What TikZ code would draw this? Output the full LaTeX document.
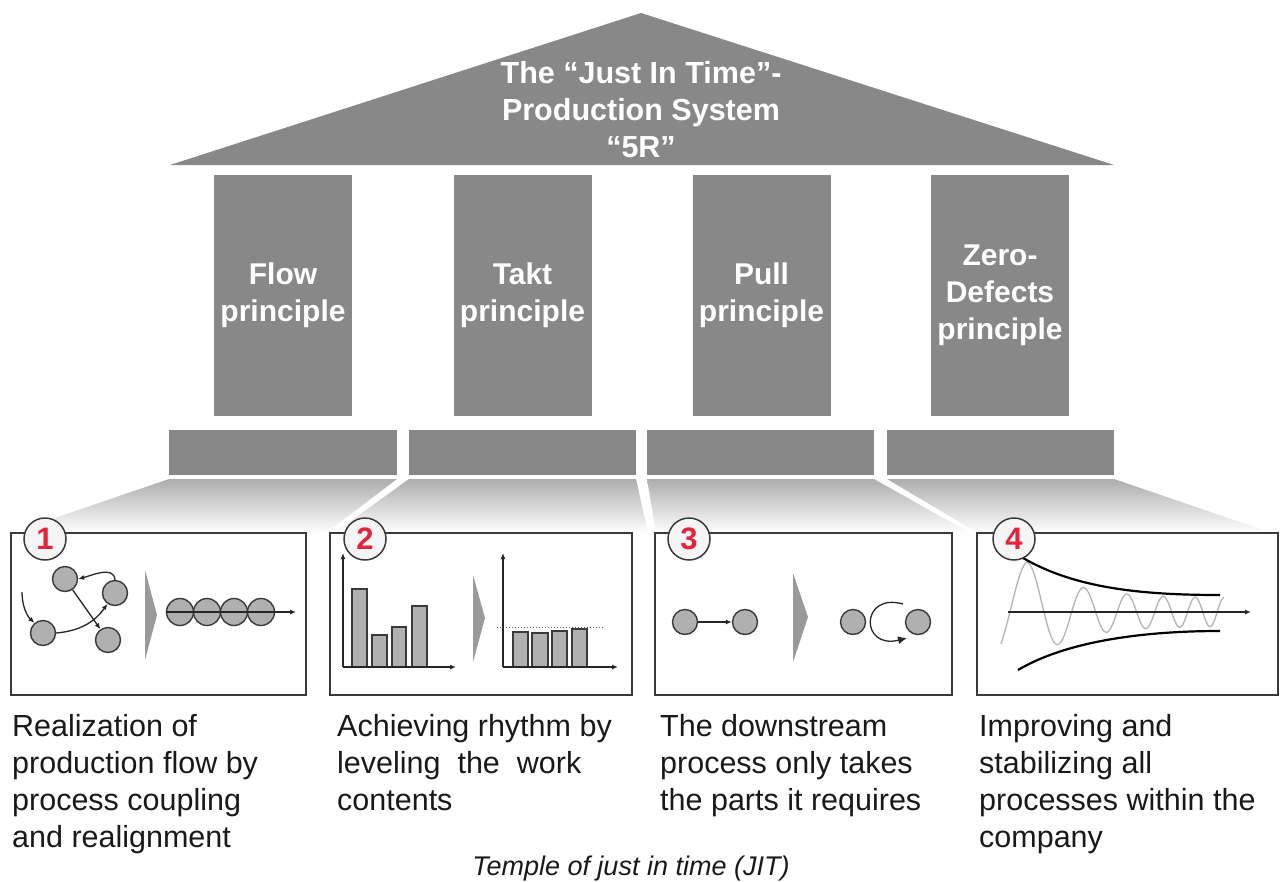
\documentclass[tikz,border=0pt]{standalone}
\usepackage{fontspec}
\setmainfont{Liberation Sans}
\usetikzlibrary{arrows.meta}
\definecolor{stone}{HTML}{888888}
\definecolor{ink}{HTML}{3A3A3A}
\definecolor{dotgray}{HTML}{B0B0B0}
\definecolor{chevgray}{HTML}{9A9A9A}
\definecolor{numred}{HTML}{E2243C}
\definecolor{wavegray}{HTML}{B4B4B4}
\begin{document}
\begin{tikzpicture}[x=1pt,y=-1pt,
  pillar/.style={fill=stone, minimum width=138pt, minimum height=241pt, inner sep=0pt,
    text=white, align=center, font=\bfseries\fontsize{30}{37}\selectfont},
  plinth/.style={fill=stone, minimum height=45pt, inner sep=0pt},
  fade/.style={top color=black!32, middle color=black!10, bottom color=white},
  panel/.style={draw=ink, line width=1.8pt, fill=white, minimum height=162pt, inner sep=0pt},
  numc/.style={circle, draw=ink, line width=1.5pt, fill=black!4, minimum size=42pt, inner sep=0pt,
    text=numred, font=\bfseries\fontsize{31}{31}\selectfont},
  dot/.style={circle, draw=ink, line width=1.4pt, fill=dotgray, minimum size=25pt, inner sep=0pt},
  arr/.style={draw=black!85, line width=1.3pt, -{Latex[length=6pt,width=5pt]}},
  bar/.style={draw=ink, line width=1.4pt, fill=dotgray},
  chev/.style={fill=chevgray},
  desc/.style={anchor=north west, inner sep=0pt, align=left, text=black!90,
    font=\fontsize{30.5}{37}\selectfont},
  env/.style={draw=black, line width=2.2pt}
]
\useasboundingbox (0,0) rectangle (1282,881);

% roof
\fill[stone] (170,165) -- (641,13) -- (1114,165) -- cycle;
\node[text=white, align=center, inner sep=0pt, font=\bfseries\fontsize{30.5}{37}\selectfont]
  (roof) at (641,110) {The “Just In Time”-\\Production System\\“5R”};

% pillars
\node[pillar] (flow) at (283,295.5) {Flow\\principle};
\node[pillar] (takt) at (522.5,295.5) {Takt\\principle};
\node[pillar] (pull) at (761.5,295.5) {Pull\\principle};
\node[pillar] (zero) at (1000,295.5) {Zero-\\Defects\\principle};

% plinths
\node[plinth, minimum width=228pt] (b1) at (283,452.5) {};
\node[plinth, minimum width=227pt] (b2) at (522.5,452.5) {};
\node[plinth, minimum width=227pt] (b3) at (760.5,452.5) {};
\node[plinth, minimum width=227pt] (b4) at (1000.5,452.5) {};

% fading steps down to the panels
\shade[fade] (169,479) -- (397,479) -- (326,533) -- (11,533) -- cycle;
\shade[fade] (409,479) -- (636,479) -- (648,533) -- (334,533) -- cycle;
\shade[fade] (647,479) -- (874,479) -- (970,533) -- (656,533) -- cycle;
\shade[fade] (887,479) -- (1114,479) -- (1272,533) -- (978,533) -- cycle;

% panels
\node[panel, minimum width=295pt] (p1) at (158.5,614) {};
\node[panel, minimum width=302pt] (p2) at (481,614) {};
\node[panel, minimum width=297pt] (p3) at (803.5,614) {};
\node[panel, minimum width=301pt] (p4) at (1127.5,614) {};

% ---- panel 1: scattered flow -> coupled flow
\node[dot] (a1) at (65,579) {};
\node[dot] (a2) at (115,593) {};
\node[dot] (a3) at (43,633) {};
\node[dot] (a4) at (108,640) {};
\coordinate (s1) at (22,592);
\draw[arr] (s1) .. controls (22,606) and (27,616) .. (a3.130);
\draw[arr] (a3.east) to[out=5,in=235] (a2.235);
\draw[arr] (a2.north) to[out=95,in=15] (a1.east);
\draw[arr] (a1) -- (a4);
\fill[chev] (145,570) -- (157,615) -- (145,660) -- cycle;
\node[dot, minimum size=27pt] (c1) at (180,612) {};
\node[dot, minimum size=27pt] (c2) at (207,612) {};
\node[dot, minimum size=27pt] (c3) at (234,612) {};
\node[dot, minimum size=27pt] (c4) at (261,612) {};
\coordinate (t1) at (296,612);
\draw[arr] (c1.west) -- (t1);

% ---- panel 2: uneven -> levelled work contents
\coordinate (o2) at (343,667);
\coordinate (y2) at (343,553);
\coordinate (x2) at (456,667);
\draw[bar] (352,667) rectangle (367,589);
\draw[bar] (372,667) rectangle (387,635);
\draw[bar] (392,667) rectangle (406,627);
\draw[bar] (412,667) rectangle (427,606);
\draw[arr] (o2) -- (y2);
\draw[arr] (o2) -- (x2);
\fill[chev] (473,575) -- (485,618) -- (473,662) -- cycle;
\coordinate (o3) at (503,667);
\coordinate (y3) at (503,553);
\coordinate (x3) at (618,667);
\coordinate (l3a) at (497,627);
\coordinate (l3b) at (604,627);
\draw[bar] (513,667) rectangle (528,632);
\draw[bar] (532,667) rectangle (548,633);
\draw[bar] (552,667) rectangle (567,631);
\draw[bar] (572,667) rectangle (587,629);
\draw[black!65, line width=1pt, dotted] (l3a) -- (l3b);
\draw[arr] (o3) -- (y3);
\draw[arr] (o3) -- (x3);

% ---- panel 3: push -> pull
\node[dot] (d1) at (685,622) {};
\node[dot] (d2) at (745,622) {};
\draw[arr] (d1) -- (d2);
\fill[chev] (793,573) -- (808,617) -- (793,662) -- cycle;
\node[dot] (d3) at (853,622) {};
\node[dot] (d4) at (918,622) {};
\coordinate (k1) at (903,604);
\coordinate (k2) at (907,638);
\draw[draw=black!85, line width=1.3pt, -{Latex[length=9pt,width=8pt]}]
  (k1) .. controls (860,592) and (860,650) .. (k2);

% ---- panel 4: damped oscillation
\draw[wavegray, line width=1.3pt] plot[domain=1001:1224, samples=220, smooth]
  (\x, {612 - (14 + 36*exp(-max(\x-1028,0)/45))
        * sin(90 + 5.328*(\x-1028) + 0.01962*(\x-1028)*(\x-1028))});
\coordinate (e0) at (1008,612);
\coordinate (e1) at (1251,612);
\draw[arr] (e0) -- (e1);
\coordinate (u0) at (1023,558);
\coordinate (u1) at (1220,595);
\coordinate (w0) at (1018,670);
\coordinate (w1) at (1220,631);
\draw[env] (u0) .. controls (1075,588) and (1140,595) .. (u1);
\draw[env] (w0) .. controls (1065,642) and (1140,631) .. (w1);

% number badges
\node[numc] (n1) at (45,539) {1};
\node[numc] (n2) at (365,539) {2};
\node[numc] (n3) at (689,539) {3};
\node[numc] (n4) at (1014,539) {4};

% descriptions
\node[desc] (t1a) at (12,714) {Realization of\\production flow by\\process coupling\\and realignment};
\node[desc] (t2a) at (337,714) {Achieving rhythm by\\leveling~ the~ work\\contents};
\node[desc] (t3a) at (660,714) {The downstream\\process only takes\\the parts it requires};
\node[desc] (t4a) at (979,714) {Improving and\\stabilizing all\\processes within the\\company};

% caption
\node[inner sep=0pt, font=\itshape\fontsize{27}{30}\selectfont, text=black!90, anchor=base]
  (cap) at (631,875) {Temple of just in time (JIT)};
\end{tikzpicture}
\end{document}
